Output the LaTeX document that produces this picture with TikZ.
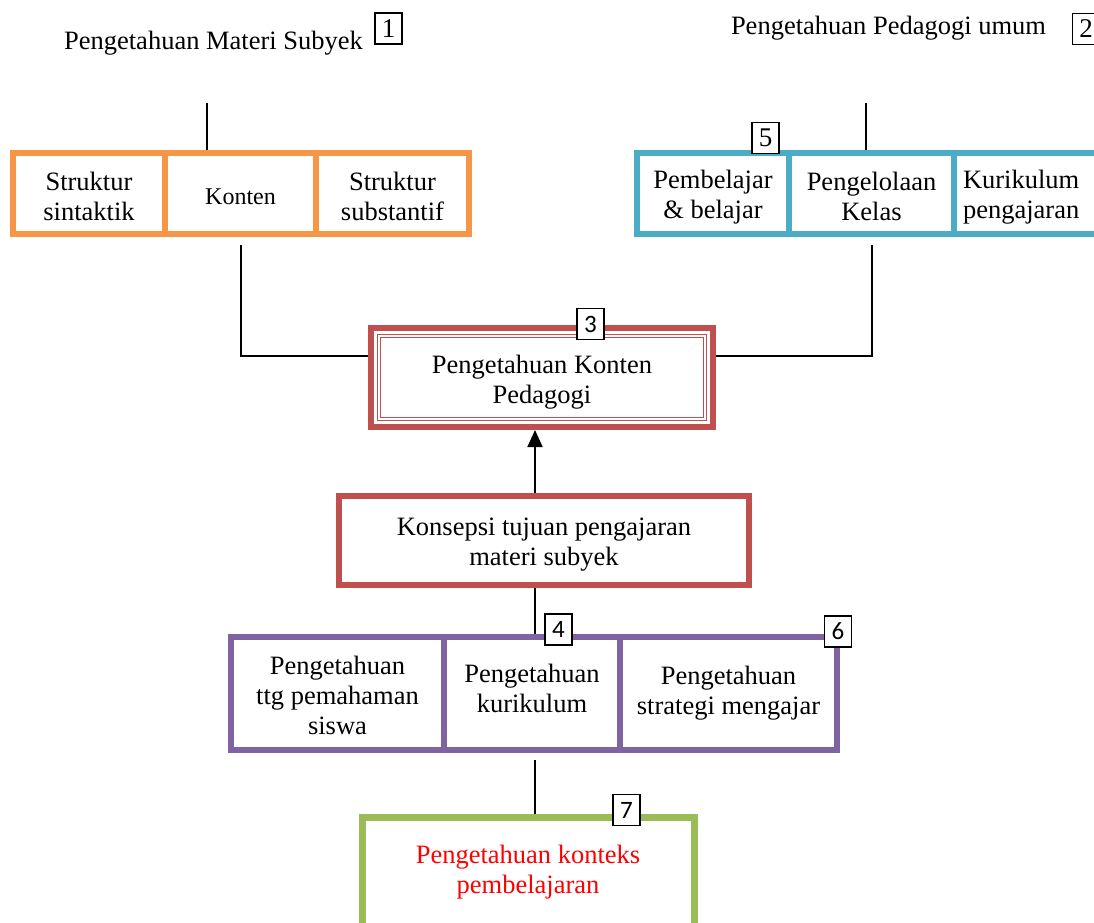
\documentclass[tikz,border=0pt]{standalone}
\usepackage{fontspec}
\setmainfont{Liberation Serif}
\newfontfamily\numfont{Carlito}
\usetikzlibrary{arrows.meta,calc}
\definecolor{corange}{HTML}{F79646}
\definecolor{cteal}{HTML}{4BACC6}
\definecolor{cred}{HTML}{C0504D}
\definecolor{cpurple}{HTML}{8064A2}
\definecolor{cgreen}{HTML}{9BBB59}
\newcommand\tsh[1]{\rule{0pt}{#1}}
\newcommand\tdp[1]{\rule[-#1]{0pt}{#1}}
\begin{document}
\begin{tikzpicture}[x=1pt,y=-1pt,
  txt/.style={font=\fontsize{26.5}{30}\selectfont, align=center, inner sep=0pt},
  cell/.style={draw, line width=6pt, inner sep=0pt, font=\fontsize{26.5}{30}\selectfont, align=center},
  numbox/.style={draw, line width=1.2pt, fill=white, inner sep=0pt, minimum width=27pt, minimum height=31pt, font=\fontsize{27}{27}\selectfont},
  snum/.style={numbox, font=\numfont\fontsize{25}{25}\selectfont},
  conn/.style={line width=1.8pt}]
\clip (0,0) rectangle (1094,922);
\fill[white] (0,0) rectangle (1094,922);

% titles
\node[txt] (t1) at (213.5,43) {Pengetahuan Materi Subyek};
\node[txt] (t2) at (888.5,28) {Pengetahuan Pedagogi umum};

% orange cells
\node[cell, draw=corange, minimum width=152pt, minimum height=81pt] (ss) at (89,193.5) {\tsh{25pt}Struktur\\sintaktik};
\node[cell, draw=corange, minimum width=151pt, minimum height=81pt, font=\fontsize{24}{28}\selectfont] (kon) at (240.5,193.5) {\tsh{23pt}Konten};
\node[cell, draw=corange, minimum width=153pt, minimum height=81pt] (sst) at (392.5,193.5) {\tsh{25pt}Struktur\\substantif};

% teal cells
\node[cell, draw=cteal, minimum width=152pt, minimum height=81pt] (pb) at (713,193.5) {\tsh{25pt}Pembelajar\\\& belajar};
\node[cell, draw=cteal, minimum width=165pt, minimum height=81pt] (pk) at (871.5,193.5) {\tsh{25pt}Pengelolaan\\Kelas};
\node[cell, draw=cteal, minimum width=226pt, minimum height=81pt, text width=208pt, align=left] (kp) at (1067,193.5) {\tsh{25pt}Kurikulum\\pengajaran};

% PKP
\node[cell, draw=cred, minimum width=342pt, minimum height=99pt] (pkp) at (542,377.5) {\tsh{28pt}Pengetahuan Konten\\Pedagogi};
\draw[cred, line width=1.6pt, double=white, double distance=1.2pt] ($(pkp.north west)+(11,11)$) rectangle ($(pkp.south east)+(-11,-11)$);

% Konsepsi
\node[cell, draw=cred, minimum width=410pt, minimum height=89pt] (kt) at (544,540.5) {\tsh{25pt}Konsepsi tujuan pengajaran\\materi subyek};

% purple cells
\node[cell, draw=cpurple, minimum width=213pt, minimum height=113pt] (p1) at (337.5,693.5) {\tsh{22pt}Pengetahuan\\ttg pemahaman\\siswa};
\node[cell, draw=cpurple, minimum width=176pt, minimum height=113pt] (p2) at (532,693.5) {Pengetahuan\\kurikulum\tdp{10pt}};
\node[cell, draw=cpurple, minimum width=217pt, minimum height=113pt] (p3) at (728.5,693.5) {Pengetahuan\\strategi mengajar};

% green
\node[cell, draw=cgreen, line width=7pt, minimum width=332pt, minimum height=143pt] (gr) at (528,888.5) {};
\node[txt, text=red] (grt) at (528,872) {Pengetahuan konteks\\pembelajaran};

% connectors
\coordinate (l1) at (207,103);
\draw[conn] (l1) -- (l1 |- kon.north);
\coordinate (l2) at (866,103);
\draw[conn] (l2) -- (l2 |- pk.north);
\coordinate (j1a) at (241,245);
\coordinate (j1) at (241,356);
\draw[conn] (j1a) -- (j1) -- (j1 -| pkp.west);
\coordinate (j2a) at (872,245);
\coordinate (j2) at (872,356);
\draw[conn] (j2a) -- (j2) -- (j2 -| pkp.east);
\coordinate (ax) at (535,0);
\draw[conn, -{Triangle[length=17pt,width=15pt]}] (ax |- kt.north) -- (ax |- pkp.south);
\draw[conn] (ax |- kt.south) -- (ax |- p2.north);
\coordinate (g1) at (535,760);
\draw[conn] (g1) -- (g1 |- gr.north);

% number boxes
\node[numbox] (n1) at (388.5,28.5) {1};
\node[numbox] (n2) at (1086,29) {2};
\node[numbox] (n5) at (765.5,138) {5};
\node[snum] (n3) at (590.5,324) {3};
\node[snum] (n4) at (558.5,629.5) {4};
\node[snum] (n6) at (838,631.5) {6};
\node[snum] (n7) at (626.5,810) {7};
\end{tikzpicture}
\end{document}
